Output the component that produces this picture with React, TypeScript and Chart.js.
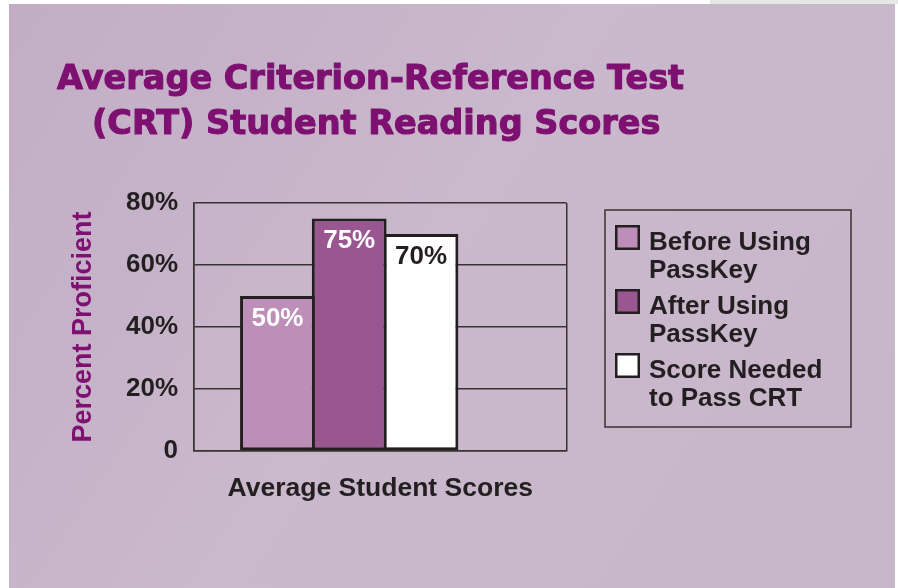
import { useEffect, useRef } from 'react';
import { Chart, registerables } from 'chart.js';

Chart.register(...registerables);

// ---------- data ----------
const TITLE_LINES = ['Average Criterion-Reference Test', '(CRT) Student Reading Scores'];
const X_AXIS_TITLE = 'Average Student Scores';
const Y_AXIS_TITLE = 'Percent Proficient';
const SERIES_LABELS = [
  ['Before Using', 'PassKey'],
  ['After Using', 'PassKey'],
  ['Score Needed', 'to Pass CRT'],
];
const SERIES_VALUES = [50, 75, 70];
const Y_TICK_LABELS = ['0', '20%', '40%', '60%', '80%'];

// ---------- styles / layout ----------
const SERIES_COLORS = ['#bd8eb8', '#9a5690', '#ffffff'];
const VALUE_LABEL_COLORS = ['#ffffff', '#ffffff', '#231f20'];
const PURPLE = '#7d1070';
const INK = '#231f20';
const LINE = '#383334';
const BODY_FONT = 'Liberation Sans';
const TITLE_FONT = 'DejaVu Sans';
const GROUP_X = 2.5; // horizontal slot of the bar group on a 0..6 slot axis
const SLOT_MAX = 6;

const backgroundPlugin = {
  id: 'bg',
  beforeDraw(chart: any) {
    const { ctx, width, height } = chart;
    ctx.save();
    ctx.fillStyle = '#ffffff';
    ctx.fillRect(0, 0, width, height);
    ctx.fillStyle = '#e6e6e6';
    ctx.fillRect(710, 0, width - 710, 4);
    const g = ctx.createLinearGradient(9, 4, 895, 588);
    g.addColorStop(0, '#c2adc5');
    g.addColorStop(0.45, '#cab8cc');
    g.addColorStop(1, '#c7b5c9');
    ctx.fillStyle = g;
    ctx.fillRect(9, 4, 886, height - 4);
    ctx.restore();
  },
};

const titlePlugin = {
  id: 'customTitle',
  afterDraw(chart: any) {
    const { ctx } = chart;
    ctx.save();
    ctx.fillStyle = PURPLE;
    ctx.strokeStyle = PURPLE;
    ctx.lineWidth = 1.1;
    ctx.lineJoin = 'round';
    ctx.font = `bold 33.5px "${TITLE_FONT}"`;
    ctx.textAlign = 'left';
    ctx.textBaseline = 'alphabetic';
    const xs = [57, 92];
    const ys = [89, 134];
    TITLE_LINES.forEach((t, i) => {
      ctx.fillText(t, xs[i], ys[i]);
      ctx.strokeText(t, xs[i], ys[i]);
    });
    ctx.restore();
  },
};

const valueLabelPlugin = {
  id: 'valueLabels',
  afterDatasetsDraw(chart: any) {
    const { ctx } = chart;
    ctx.save();
    ctx.font = `bold 26px "${BODY_FONT}"`;
    ctx.textAlign = 'center';
    ctx.textBaseline = 'alphabetic';
    chart.data.datasets.forEach((ds: any, i: number) => {
      const meta = chart.getDatasetMeta(i);
      meta.data.forEach((el: any, j: number) => {
        const v = ds.data[j].y;
        ctx.fillStyle = VALUE_LABEL_COLORS[i];
        ctx.fillText(`${v}%`, el.x, el.y + 29.5);
      });
    });
    ctx.restore();
  },
};

const legendPlugin = {
  id: 'boxLegend',
  afterDraw(chart: any) {
    const { ctx } = chart;
    const box = { x: 605, y: 210, w: 246, h: 217 };
    ctx.save();
    ctx.strokeStyle = LINE;
    ctx.lineWidth = 1.5;
    ctx.strokeRect(box.x, box.y, box.w, box.h);
    ctx.font = `bold 26px "${BODY_FONT}"`;
    ctx.textAlign = 'left';
    ctx.textBaseline = 'alphabetic';
    const firstBaseline = 250;
    const stride = 64;
    const lineH = 28;
    chart.data.datasets.forEach((ds: any, i: number) => {
      const base = firstBaseline + i * stride;
      ctx.fillStyle = ds.backgroundColor;
      ctx.fillRect(615, base - 25, 25, 25);
      ctx.strokeStyle = INK;
      ctx.lineWidth = 2.5;
      ctx.strokeRect(616.25, base - 23.75, 22.5, 22.5);
      ctx.fillStyle = INK;
      SERIES_LABELS[i].forEach((line, k) => ctx.fillText(line, 649, base + k * lineH));
    });
    ctx.restore();
  },
};

export default function App() {
  const ref = useRef<HTMLCanvasElement>(null);

  useEffect(() => {
    document.body.style.margin = '0';
    const canvas = ref.current;
    if (!canvas) return;
    Chart.defaults.font.family = BODY_FONT;

    const chart = new Chart(canvas, {
      type: 'bar',
      data: {
        datasets: SERIES_VALUES.map((v, i) => ({
          label: SERIES_LABELS[i].join(' '),
          data: [{ x: GROUP_X, y: v }],
          backgroundColor: SERIES_COLORS[i],
          borderColor: INK,
          borderWidth: 3,
          borderSkipped: false,
          categoryPercentage: 0.578,
          barPercentage: 1.042,
        })),
      },
      options: {
        responsive: false,
        animation: false,
        devicePixelRatio: 1,
        layout: { padding: { left: 60, top: 203, right: 331.5, bottom: 83.2 } },
        plugins: {
          legend: { display: false },
          title: { display: false },
          tooltip: { enabled: false },
        },
        scales: {
          x: {
            type: 'linear',
            min: 0,
            max: SLOT_MAX,
            offset: false,
            ticks: { display: false, count: 2 },
            grid: { color: LINE, lineWidth: 1.5, drawTicks: false, offset: false },
            border: { display: true, color: LINE, width: 1.5 },
            title: {
              display: true,
              text: X_AXIS_TITLE,
              color: INK,
              font: { family: BODY_FONT, weight: 'bold', size: 26.5 },
              padding: { top: 22, bottom: 0 },
            },
          },
          y: {
            min: 0,
            max: 80,
            ticks: {
              stepSize: 20,
              padding: 16,
              color: INK,
              font: { family: BODY_FONT, weight: 'bold', size: 26 },
              callback: (_v: any, i: number) => Y_TICK_LABELS[i],
            },
            grid: { color: LINE, lineWidth: 1.5, drawTicks: false },
            border: { display: true, color: LINE, width: 1.5 },
            title: {
              display: true,
              text: Y_AXIS_TITLE,
              color: PURPLE,
              font: { family: BODY_FONT, weight: 'bold', size: 27 },
              padding: { top: 7, bottom: 0 },
            },
            afterFit: (scale: any) => {
              scale.width = 134;
            },
          },
        },
      } as any,
      plugins: [backgroundPlugin, titlePlugin, valueLabelPlugin, legendPlugin],
    });

    return () => chart.destroy();
  }, []);

  return (
    <div style={{ width: 898, height: 588 }}>
      <canvas ref={ref} width={898} height={588} style={{ display: 'block' }} />
    </div>
  );
}
